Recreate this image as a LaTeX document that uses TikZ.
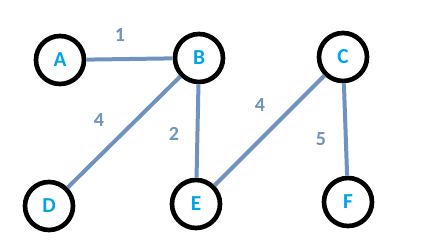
\documentclass[tikz,border=0pt]{standalone}
\usepackage{fontspec}
\setmainfont{Carlito}
\usepackage{tikz}
\usetikzlibrary{arrows.meta,positioning}

\definecolor{edgegray}{HTML}{7092BE}
\definecolor{letterblue}{HTML}{00A2E8}

\begin{document}
\begin{tikzpicture}[x=0.75pt, y=-0.75pt,
  vertex/.style={draw=black, line width=3.5pt, circle, minimum size=36pt, inner sep=0pt,
    font=\fontsize{16}{18}\selectfont\bfseries, text=letterblue},
  link/.style={draw=edgegray, line width=3pt},
  weight/.style={font=\fontsize{15}{17}\selectfont\bfseries, text=edgegray}]
\useasboundingbox (0,0) rectangle (429,249);
\foreach \n/\px/\py in {A/60/60, B/199/58, C/343/57, D/49/206, E/196/204, F/348/202} {
  \node[vertex] (\n) at (\px,\py) {\n};
}
\foreach \u/\v/\w/\lx/\ly in {A/B/1/120/35, B/D/4/99/120, B/E/2/174/134, E/C/4/260/105, C/F/5/321/139} {
  \draw[link] (\u) -- (\v);
  \node[weight] (w\u\v) at (\lx,\ly) {\w};
}
\end{tikzpicture}
\end{document}
